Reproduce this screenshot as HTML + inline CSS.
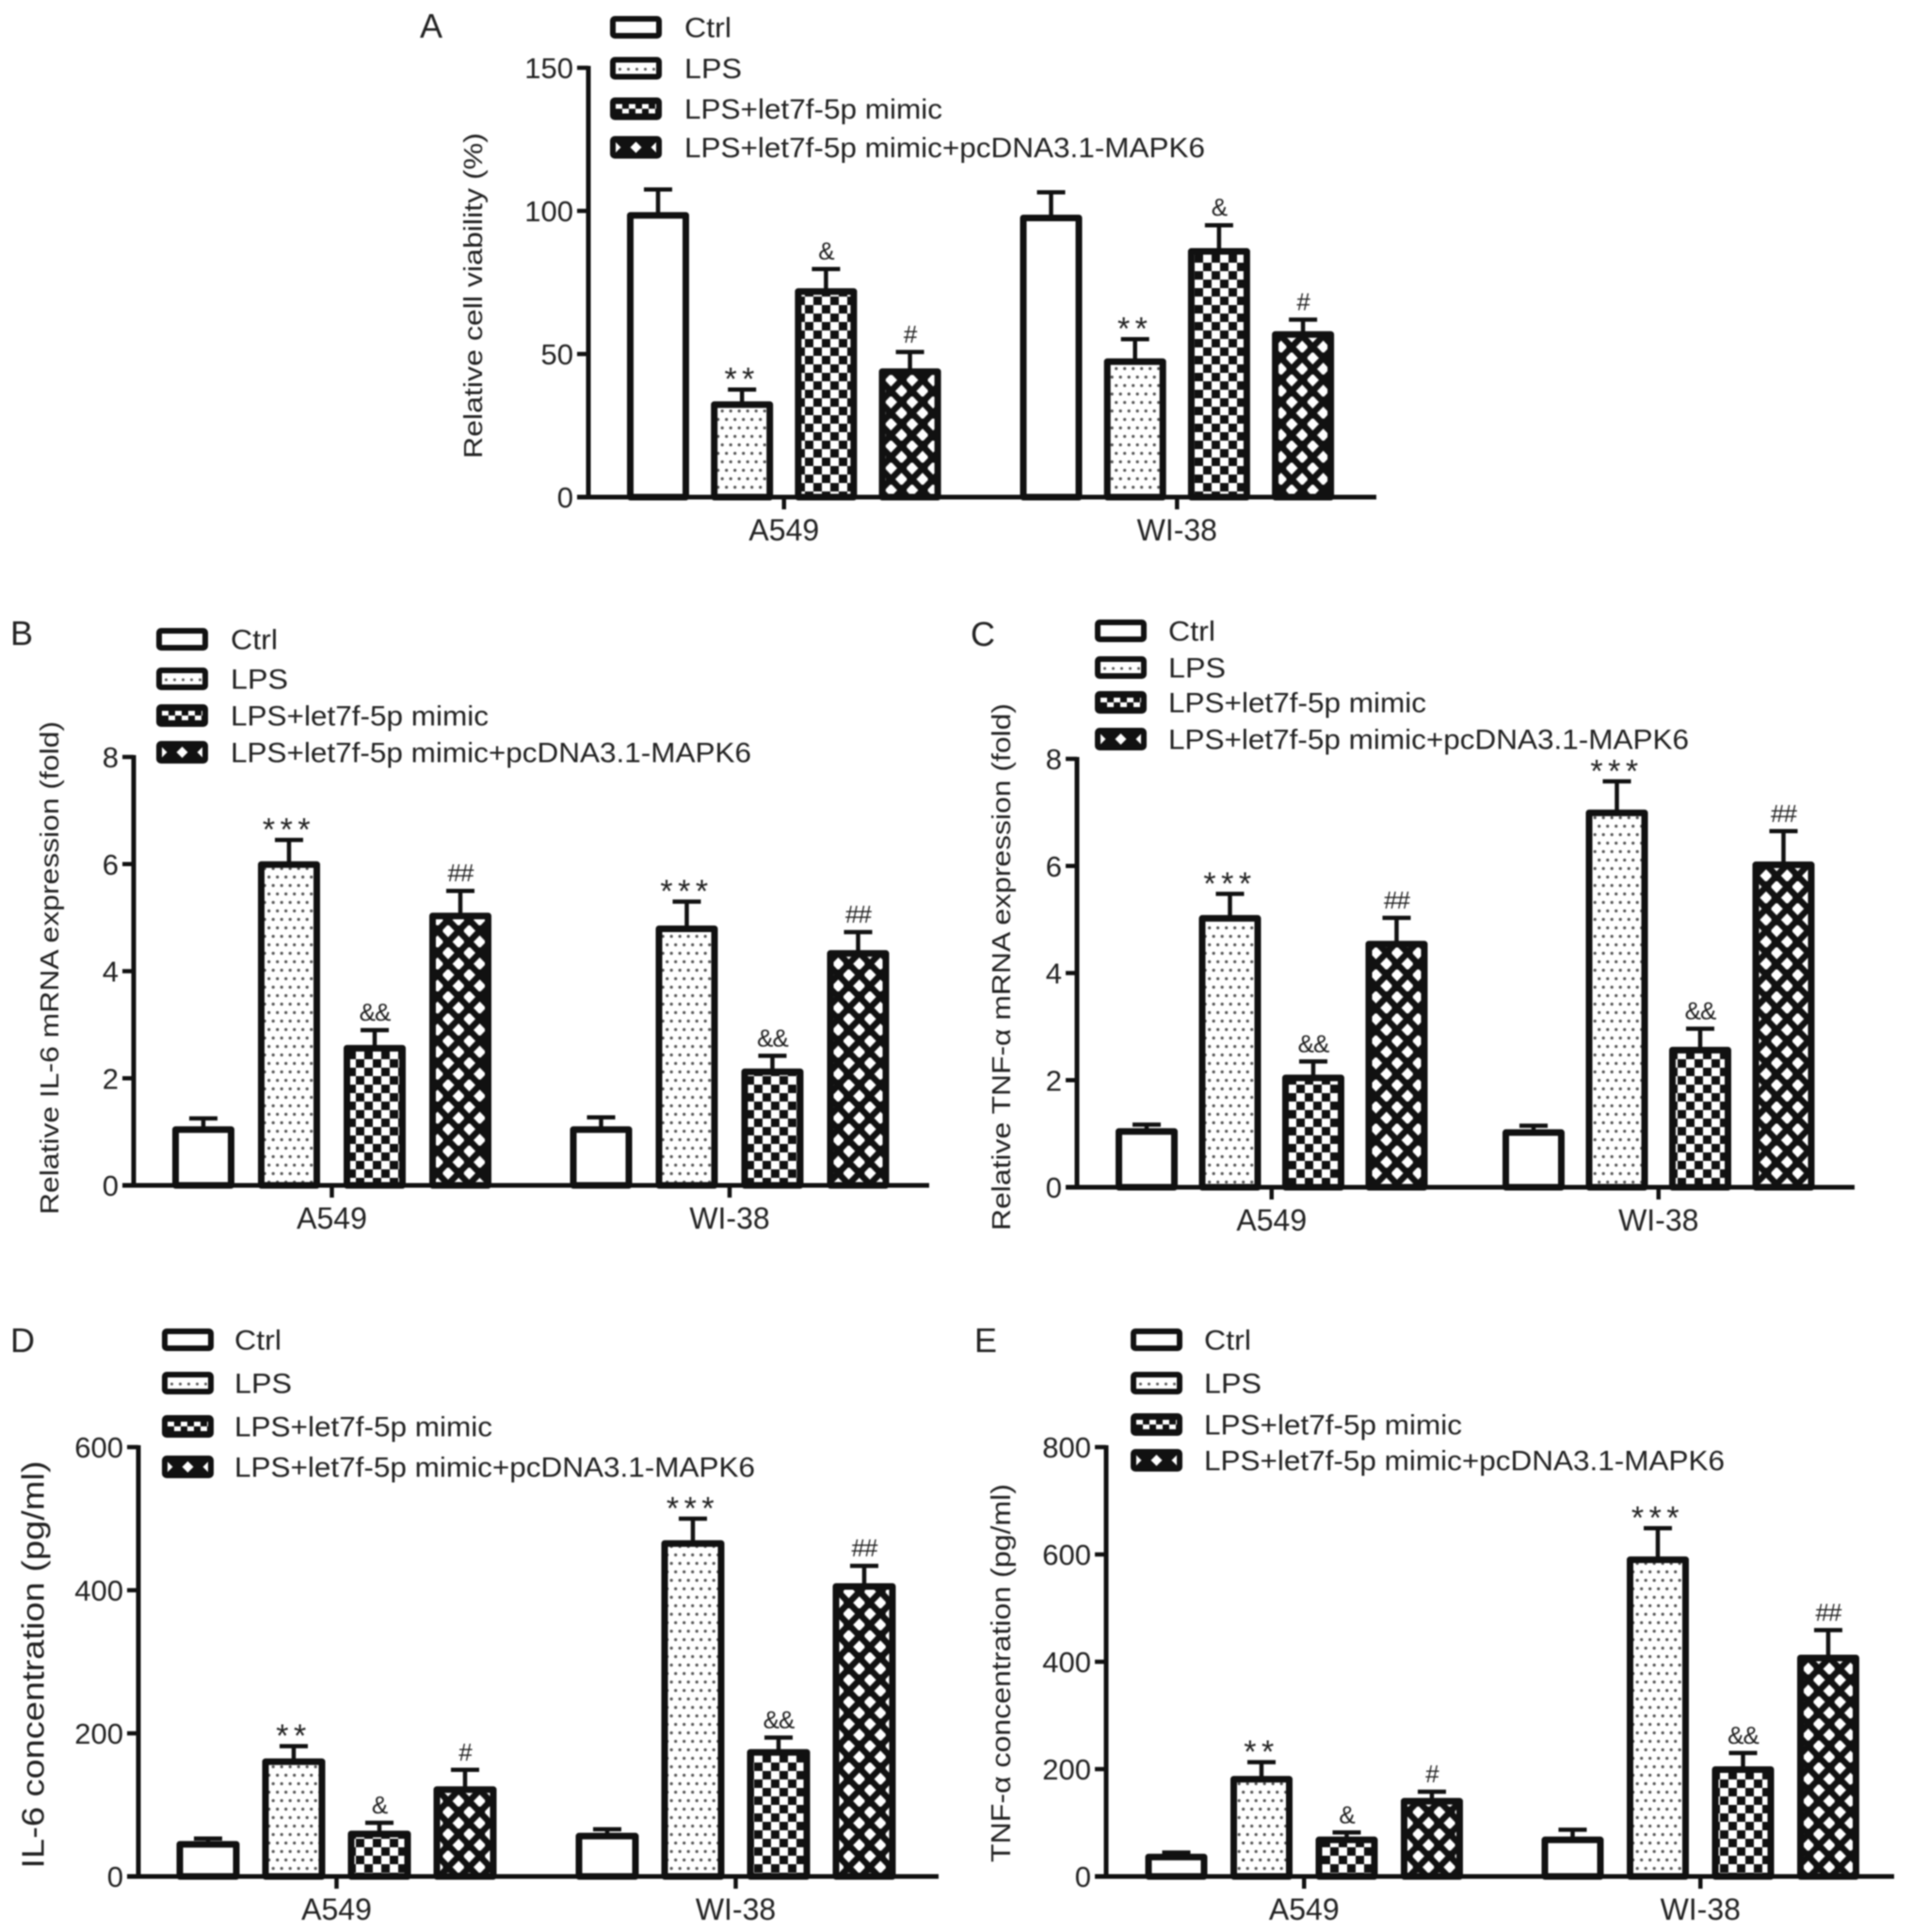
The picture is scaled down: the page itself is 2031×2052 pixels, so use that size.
<!DOCTYPE html>
<html lang="en">
<head>
<meta charset="utf-8">
<title>Relative cell viability and cytokine expression</title>
<style>
html,body{margin:0;padding:0;background:#fff;width:2031px;height:2052px;overflow:hidden}
svg{display:block;filter:blur(0.9px)}
text{font-family:"Liberation Sans",Arial,sans-serif;fill:#222}
</style>
</head>
<body>
<svg id="figure" xmlns="http://www.w3.org/2000/svg" width="2031" height="2052" viewBox="0 0 2031 2052">
<defs id="figure-defs">
<pattern id="p-ctrl" patternUnits="userSpaceOnUse" width="10" height="10"><rect width="10" height="10" fill="#fff"/></pattern>
<pattern id="p-dots" patternUnits="userSpaceOnUse" width="9" height="18"><rect width="9" height="18" fill="#fff"/><circle cx="2.2" cy="4.5" r="1.6" fill="#555"/><circle cx="6.7" cy="13.5" r="1.6" fill="#555"/></pattern>
<pattern id="p-check" patternUnits="userSpaceOnUse" width="18" height="18"><rect width="18" height="18" fill="#111"/><rect x="0" y="0" width="9" height="9" fill="#fff"/><rect x="9" y="9" width="9" height="9" fill="#fff"/></pattern>
<pattern id="p-diamond" patternUnits="userSpaceOnUse" width="22.4" height="23.4"><rect width="22.4" height="23.4" fill="#111"/><polygon points="5.6,-1 12.2,5.85 5.6,12.7 -1,5.85" fill="#fff"/><polygon points="16.8,10.7 23.4,17.55 16.8,24.4 10.2,17.55" fill="#fff"/></pattern>
<pattern id="l-ctrl" patternUnits="userSpaceOnUse" width="10" height="10"><rect width="10" height="10" fill="#fff"/></pattern>
<pattern id="l-dots" patternUnits="userSpaceOnUse" width="9" height="12"><rect width="9" height="12" fill="#fff"/><circle cx="4.5" cy="7" r="1.5" fill="#555"/></pattern>
<pattern id="l-check" patternUnits="userSpaceOnUse" width="14" height="12"><rect width="14" height="12" fill="#111"/><rect x="0" y="1" width="7" height="5" fill="#fff"/><rect x="7" y="6" width="7" height="5" fill="#fff"/></pattern>
<pattern id="l-diamond" patternUnits="userSpaceOnUse" width="22" height="24"><rect width="22" height="24" fill="#111"/><polygon points="11,6 17,12 11,18 5,12" fill="#fff"/></pattern>
</defs>
</svg>
<script>
const legendLabels = ['Ctrl', 'LPS', 'LPS+let7f-5p mimic', 'LPS+let7f-5p mimic+pcDNA3.1-MAPK6'];
const groupLabels = ['A549', 'WI-38'];
const seriesFills = ['p-ctrl', 'p-dots', 'p-check', 'p-diamond'];
const legendFills = ['l-ctrl', 'l-dots', 'l-check', 'l-diamond'];

const aTicks = [0, 50, 100, 150];
const aValues = [98.6, 32.5, 72, 44, 97.7, 47.5, 86, 57];
const aErrorTops = [107.5, 37.6, 79.7, 50.7, 106.5, 55.2, 95, 62];
const aMarks = ['', '**', '&', '#', '', '**', '&', '#'];

const bTicks = [0, 2, 4, 6, 8];
const bValues = [1.05, 6, 2.57, 5.04, 1.05, 4.8, 2.13, 4.34];
const bErrorTops = [1.25, 6.45, 2.9, 5.5, 1.27, 5.3, 2.42, 4.73];
const bMarks = ['', '***', '&&', '##', '', '***', '&&', '##'];

const cTicks = [0, 2, 4, 6, 8];
const cValues = [1.05, 5.03, 2.05, 4.55, 1.03, 7, 2.57, 6.03];
const cErrorTops = [1.17, 5.48, 2.35, 5.03, 1.15, 7.58, 2.96, 6.65];
const cMarks = ['', '***', '&&', '##', '', '***', '&&', '##'];

const dTicks = [0, 200, 400, 600];
const dValues = [45.6, 161, 60, 122, 57, 466, 174, 406];
const dErrorTops = [53, 182, 75, 149, 66, 500, 194, 434];
const dMarks = ['', '**', '&', '#', '', '***', '&&', '##'];

const eTicks = [0, 200, 400, 600, 800];
const eValues = [37, 182, 69, 141, 69, 591, 200, 408];
const eErrorTops = [44.5, 213, 82, 158, 87, 649, 230, 459];
const eMarks = ['', '**', '&', '#', '', '***', '&&', '##'];

const panels = [
  {id:'a', letter:'A', lx:446, ly:40, ticks:aTicks, values:aValues, errs:aErrorTops, marks:aMarks, yMax:150, y0:528, yTop:72, axisX:625, xEnd:1462, first:699, step:89.2, group:417.5, barW:63, xLabelY:574,
   title:'Relative cell viability (%)', titleX:502, titleCY:314, titleLen:346, titleSize:28, legX:648, legText:727, legYs:[29,72.5,115.5,156.5]},
  {id:'b', letter:'B', lx:11, ly:685, ticks:bTicks, values:bValues, errs:bErrorTops, marks:bMarks, yMax:8, y0:1259, yTop:804, axisX:142, xEnd:987, first:216, step:91, group:422.5, barW:63, xLabelY:1305,
   title:'Relative IL-6 mRNA expression (fold)', titleX:52, titleCY:1028, titleLen:524, titleSize:28, legX:166, legText:245, legYs:[679,721,760,799]},
  {id:'c', letter:'C', lx:1031, ly:686, ticks:cTicks, values:cValues, errs:cErrorTops, marks:cMarks, yMax:8, y0:1261, yTop:806, axisX:1144, xEnd:1970, first:1218, step:88.5, group:411, barW:63, xLabelY:1307,
   title:'Relative TNF-\u03b1 mRNA expression (fold)', titleX:1063, titleCY:1027, titleLen:560, titleSize:28, legX:1163, legText:1241, legYs:[670,709,746,785]},
  {id:'d', letter:'D', lx:11, ly:1436, ticks:dTicks, values:dValues, errs:dErrorTops, marks:dMarks, yMax:600, y0:1993, yTop:1537, axisX:147, xEnd:997, first:221, step:91, group:424, barW:64, xLabelY:2039,
   title:'IL-6 concentration (pg/ml)', titleX:35, titleCY:1768, titleLen:433, titleSize:33, legX:172, legText:249, legYs:[1423,1469,1515,1558]},
  {id:'e', letter:'E', lx:1035, ly:1436, ticks:eTicks, values:eValues, errs:eErrorTops, marks:eMarks, yMax:800, y0:1993, yTop:1537, axisX:1175, xEnd:2012, first:1249.5, step:90.5, group:421, barW:63, xLabelY:2039,
   title:'TNF-\u03b1 concentration (pg/ml)', titleX:1063, titleCY:1777, titleLen:402, titleSize:29, legX:1201, legText:1279, legYs:[1423,1469,1513,1551]}
];

const svgNS = 'http://www.w3.org/2000/svg';
const figure = document.getElementById('figure');
const figureDefs = document.getElementById('figure-defs');
let patternCount = 0;

function mk(tag, attrs, parent, content) {
  const el = document.createElementNS(svgNS, tag);
  for (const k in attrs) el.setAttribute(k, attrs[k]);
  if (content !== undefined) el.textContent = content;
  parent.appendChild(el);
  return el;
}

function anchoredPattern(baseId, x, y) {
  const pat = document.getElementById(baseId).cloneNode(true);
  patternCount += 1;
  pat.id = baseId + '-' + patternCount;
  pat.setAttribute('x', x);
  pat.setAttribute('y', y);
  figureDefs.appendChild(pat);
  return pat.id;
}

function drawPanel(p) {
  const yOf = v => p.y0 - (v / p.yMax) * (p.y0 - p.yTop);
  const xOf = i => p.first + (i % 4) * p.step + Math.floor(i / 4) * p.group;
  const outerW = p.barW + 3;
  const strokeW = 7;

  const g = mk('g', {}, figure);
  
  

  const letter = mk('text', {x: p.lx, y: p.ly, 'font-size': 36}, g, p.letter);
  
  

  const title = mk('text', {transform: 'translate(' + p.titleX + ',' + p.titleCY + ') rotate(-90)', x: 0, y: p.titleSize * 0.35, 'text-anchor': 'middle', 'font-size': p.titleSize, textLength: p.titleLen, lengthAdjust: 'spacingAndGlyphs'}, g, p.title);
  
  

  p.values.forEach((v, i) => {
    const cx = xOf(i);
    const top = yOf(v) - 3;
    const errY = yOf(p.errs[i]);
    const s = i % 4;

    const stem = mk('line', {x1: cx, x2: cx, y1: top + 2, y2: errY, stroke: '#111', 'stroke-width': 4.5}, g);
    
    

    const cap = mk('line', {x1: cx - 15, x2: cx + 15, y1: errY, y2: errY, stroke: '#111', 'stroke-width': 4.5}, g);
    
    

    const bar = mk('rect', {x: cx - outerW / 2 + strokeW / 2, y: top + strokeW / 2, width: outerW - strokeW, height: p.y0 - top - strokeW / 2, fill: 'url(#' + seriesFills[s] + ')', stroke: '#111', 'stroke-width': strokeW, 'stroke-linejoin': 'round'}, g);
    
    

    const m = p.marks[i];
    if (m) {
      const isStar = m.charAt(0) === '*';
      const mark = mk('text', {x: cx, y: isStar ? errY + 0.5 : errY - 10, 'text-anchor': 'middle', 'font-size': isStar ? 34 : 26, 'letter-spacing': isStar ? 5.5 : -1}, g, m);
      
      
    }
  });

  const yAxis = mk('line', {x1: p.axisX, x2: p.axisX, y1: p.yTop - 2, y2: p.y0 + 2, stroke: '#111', 'stroke-width': 5}, g);
  
  

  const xAxis = mk('line', {x1: p.axisX - 12, x2: p.xEnd, y1: p.y0, y2: p.y0, stroke: '#111', 'stroke-width': 5}, g);
  
  

  p.ticks.forEach(t => {
    const y = yOf(t);
    const tick = mk('line', {x1: p.axisX - 12, x2: p.axisX, y1: y, y2: y, stroke: '#111', 'stroke-width': 4.5}, g);
    
    

    const label = mk('text', {x: p.axisX - 16, y: y + 11, 'text-anchor': 'end', 'font-size': 31}, g, String(t));
    
    
  });

  groupLabels.forEach((name, gi) => {
    const cx = (xOf(gi * 4) + xOf(gi * 4 + 3)) / 2;
    const tick = mk('line', {x1: cx, x2: cx, y1: p.y0, y2: p.y0 + 13, stroke: '#111', 'stroke-width': 4.5}, g);
    
    

    const label = mk('text', {x: cx, y: p.xLabelY, 'text-anchor': 'middle', 'font-size': 32}, g, name);
    
    
  });

  const lens = [50, 61, 274, 553];
  legendLabels.forEach((name, s) => {
    const cy = p.legYs[s];
    const originX = s === 3 ? p.legX + 27.5 - 11 : p.legX + 6;
    const originY = s === 3 ? cy - 12 : cy - 6;
    const patId = anchoredPattern(legendFills[s], originX, originY);

    const swatch = mk('rect', {x: p.legX + 3, y: cy - 9, width: 49, height: 18, rx: 2, fill: 'url(#' + patId + ')', stroke: '#111', 'stroke-width': 6, 'stroke-linejoin': 'round'}, g);
    
    

    const label = mk('text', {x: p.legText, y: cy + 10.5, 'font-size': 30, textLength: lens[s], lengthAdjust: 'spacingAndGlyphs'}, g, name);
    
    
  });
}

panels.forEach(drawPanel);
</script>
</body>
</html>
